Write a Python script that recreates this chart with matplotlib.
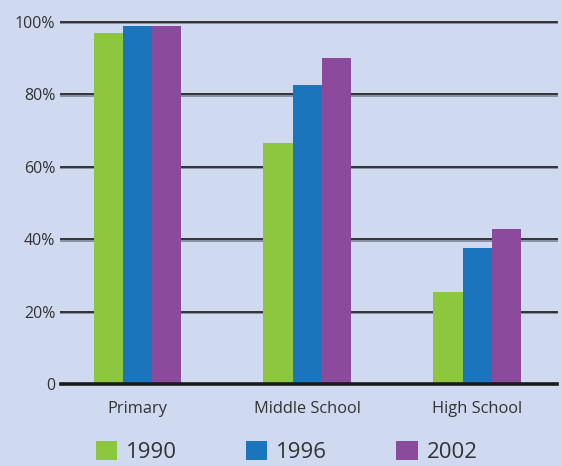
import matplotlib

matplotlib.use("Agg")
import matplotlib.pyplot as plt
import matplotlib.patheffects as pe
from matplotlib.patches import Patch
import numpy as np

CATEGORIES = ["Primary", "Middle School", "High School"]
YEARS = ["1990", "1996", "2002"]
VALUES_1990 = [96.8, 66.6, 25.3]
VALUES_1996 = [99.0, 82.6, 37.5]
VALUES_2002 = [99.0, 90.1, 42.8]
Y_TICKS = [0, 20, 40, 60, 80, 100]
Y_TICK_LABELS = ["0", "20%", "40%", "60%", "80%", "100%"]

COLORS = ["#8dc63f", "#1a75bc", "#8b4a9c"]
BG = "#cfd9ef"
TEXT = "#333333"

plt.rcParams["font.family"] = ["Open Sans", "DejaVu Sans"]

fig = plt.figure(figsize=(5.62, 4.66), dpi=100, facecolor=BG)
ax = fig.add_axes([0.1085, 0.176, 0.8825, 0.777])
ax.set_facecolor(BG)

x = np.arange(len(CATEGORIES))
width = 0.172
series = [VALUES_1990, VALUES_1996, VALUES_2002]
for i, (vals, color) in enumerate(zip(series, COLORS)):
    ax.bar(x + (i - 1) * width, vals, width=width, color=color, zorder=3, linewidth=0)

# grid lines with a faint shadow underneath, like the original
shadow = [pe.SimpleLineShadow(offset=(0, -1), shadow_color="#8a8fa0", alpha=1), pe.Normal()]
for t in Y_TICKS[1:]:
    ax.axhline(t, color="#333333", lw=1.4, zorder=1, clip_on=False, path_effects=shadow)
ax.axhline(0, color="#1a1a1a", lw=2.6, zorder=4, clip_on=False)

ax.set_xlim(-0.45, 2.47)
ax.set_ylim(0, 100)
ax.set_yticks(Y_TICKS)
ax.set_yticklabels(Y_TICK_LABELS, fontsize=11.5, color=TEXT)
ax.set_xticks(x)
ax.set_xticklabels(CATEGORIES, fontsize=11.8, color=TEXT)
ax.tick_params(axis="both", length=0)
ax.tick_params(axis="y", pad=4)
ax.tick_params(axis="x", pad=12)
for s in ax.spines.values():
    s.set_visible(False)

handles = [Patch(facecolor=c, edgecolor="none") for c in COLORS]
fig.legend(handles, YEARS, loc="center", bbox_to_anchor=(0.51, 0.03), ncol=3, frameon=False,
           fontsize=16, handlelength=0.97, handleheight=0.97, handletextpad=0.4, columnspacing=3.1,
           labelcolor=TEXT)

fig.savefig("out.png", dpi=100, facecolor=BG)
